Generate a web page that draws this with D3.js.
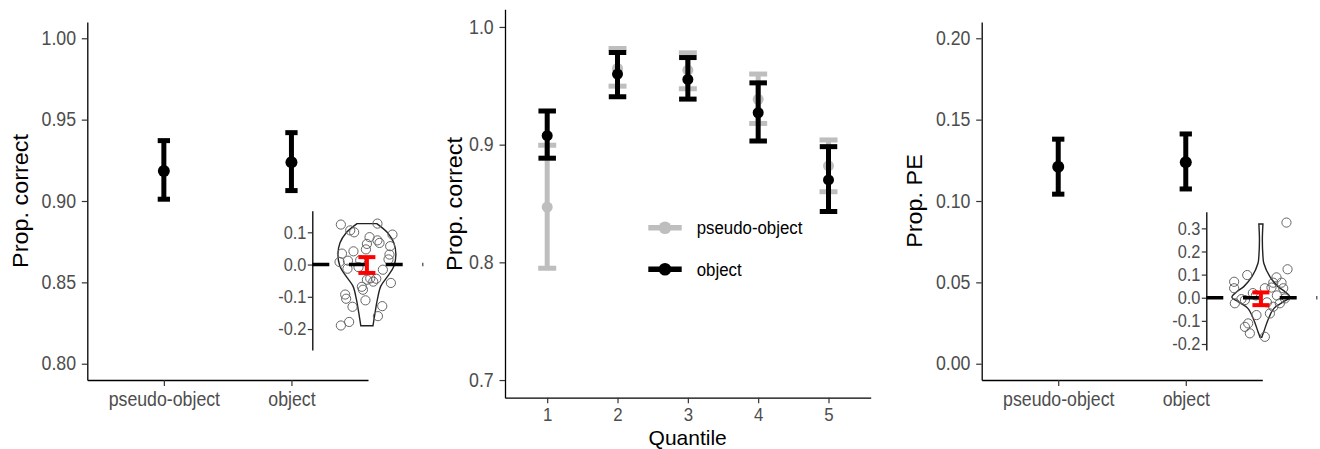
<!DOCTYPE html>
<html>
<head>
<meta charset="utf-8">
<script src="https://cdn.jsdelivr.net/npm/d3@7"></script>
<style>
body { margin: 0; background: #fff; }
svg text { font-family: "Liberation Sans", Arial, sans-serif; }
</style>
</head>
<body>
<svg id="chart" width="1320" height="449"></svg>

<script>
// ---- data ----
var groups = ["pseudo-object", "object"]

// left panel: proportion correct
var accMean = [0.9185, 0.9238]
var accLow  = [0.9011, 0.9064]
var accHigh = [0.9371, 0.9420]

// right panel: proportion PE
var peMean = [0.1211, 0.1238]
var peLow  = [0.1042, 0.1074]
var peHigh = [0.1380, 0.1412]

// middle panel: by quantile
var quantiles = [1, 2, 3, 4, 5]
var pseudoMean = [0.847, 0.9647, 0.9633, 0.9385, 0.882]
var pseudoLow  = [0.795, 0.9497, 0.9475, 0.918, 0.860]
var pseudoHigh = [0.8995, 0.9817, 0.978, 0.960, 0.904]
var objMean = [0.9076, 0.960, 0.9554, 0.9271, 0.870]
var objLow  = [0.8885, 0.9407, 0.9387, 0.9031, 0.8432]
var objHigh = [0.9286, 0.9783, 0.974, 0.9525, 0.8983]

// inset (object - pseudo-object) for accuracy
var accDiffJitter = [-0.217, -0.139, 0.088, 0.213, 0.022, 0, 0.088, 0.105, -0.008, -0.112, -0.208, 0.194,
  0.188, 0.18, -0.228, -0.158, -0.162, -0.056, 0.133, 0.028, 0, 0.078, 0.2, -0.042, -0.033, -0.181,
  -0.173, -0.012, -0.12, 0.128, 0.092, -0.148, -0.217, -0.07, -0.106, 0.053]
var accDiffValue = [0.124, 0.106, 0.127, 0.093, 0.085, 0.064, 0.075, 0.067, 0.047, 0.041, 0.034, 0.057,
  0.031, 0.016, 0.008, 0.012, -0.013, 0.013, -0.016, -0.043, -0.047, -0.044, -0.057, -0.069, -0.078, -0.093,
  -0.106, -0.111, -0.131, -0.129, -0.16, -0.178, -0.189, -0.008, 0.1, -0.053]
var accViolinAt   = [0.127, 0.098, 0.067, 0.031, -0.005, -0.036, -0.067, -0.109, -0.15, -0.19]
var accViolinDens = [0.34, 0.72, 0.93, 1, 0.93, 0.72, 0.48, 0.36, 0.28, 0.21]
var accDiffMean = -0.0015, accDiffLow = -0.026, accDiffHigh = 0.023

// inset for PE
var peDiffJitter = [0.213, 0.222, -0.114, -0.223, -0.223, -0.217, 0.13, 0.172, 0.186, 0.103, 0.033, -0.133,
  -0.037, 0.075, -0.106, -0.133, -0.092, 0.033, 0.158, 0.2, 0.103, -0.162, 0.088, -0.042, 0.05, 0.133, -0.067]
var peDiffValue = [0.325, 0.123, 0.098, 0.069, 0.041, -0.024, 0.088, 0.065, 0.041, 0.065, 0.041, -0.01,
  -0.075, -0.068, -0.111, -0.126, -0.154, -0.169, -0.024, -0.003, -0.039, -0.006, 0.044, 0.01, -0.02, 0.01, 0.02]
var peViolinAt   = [0.319, 0.25, 0.18, 0.149, 0.091, 0.048, 0.026, 0.002, -0.017, -0.046, -0.097, -0.147, -0.171]
var peViolinDens = [0.07, 0.05, 0.07, 0.1, 0.31, 0.59, 0.83, 1, 0.79, 0.45, 0.24, 0.1, 0.03]
var peDiffMean = -0.004, peDiffLow = -0.032, peDiffHigh = 0.023

// ---- drawing ----
var SX = 0.91   // source text is slightly narrow
var svg = d3.select("#chart")

function styleAxis(g, fs){
  g.select(".domain").attr("stroke", "#000").attr("stroke-width", 1.3)
  g.selectAll(".tick line").attr("stroke", "#333").attr("stroke-width", 1.2)
  g.selectAll(".tick text").attr("fill", "#4d4d4d").style("font-size", fs + "px")
    .attr("transform", "scale(" + SX + ",1)")
}

function yTitle(x, y, txt){
  svg.append("text")
    .attr("transform", "translate(" + x + "," + y + ") scale(" + SX + ",1) rotate(-90)")
    .attr("text-anchor", "middle").style("font-size", "23.4px").attr("fill", "#000")
    .text(txt)
}

function errorbars(g, xs, mean, low, high, color, capW, sw, r){
  var idx = d3.range(mean.length)
  g.selectAll(null).data(idx).enter().append("line")
    .attr("x1", i => xs(i)).attr("x2", i => xs(i))
    .attr("y1", i => low[i]).attr("y2", i => high[i])
    .attr("stroke", color).attr("stroke-width", sw)
  g.selectAll(null).data(idx.concat(idx)).enter().append("line")
    .attr("x1", i => xs(i) - capW / 2).attr("x2", i => xs(i) + capW / 2)
    .attr("y1", (i, k) => k < idx.length ? low[i] : high[i])
    .attr("y2", (i, k) => k < idx.length ? low[i] : high[i])
    .attr("stroke", color).attr("stroke-width", sw)
  if (r > 0) {
    g.selectAll(null).data(idx).enter().append("circle")
      .attr("cx", i => xs(i)).attr("cy", i => mean[i]).attr("r", r).attr("fill", color)
  }
}

function groupPanel(x0, x1, domain, ticks, fmt, title, mean, low, high){
  var y = d3.scaleLinear().domain(domain).range([380, 22])
  var x = d3.scalePoint().domain(groups).range([x0, x1]).padding(0.6)

  var ya = svg.append("g").attr("transform", "translate(" + x0 + ",0)")
    .call(d3.axisLeft(y).tickValues(ticks).tickFormat(d3.format(fmt)).tickSize(5.5).tickPadding(6.9).tickSizeOuter(0))
  styleAxis(ya, 19.5)
  var xa = svg.append("g").attr("transform", "translate(0,380)")
    .call(d3.axisBottom(x).tickSize(6).tickPadding(6).tickSizeOuter(0))
  styleAxis(xa, 19.5)

  yTitle(x0 - 59.5, 201, title)

  var g = svg.append("g")
  errorbars(g, i => x(groups[i]), mean.map(y), low.map(y), high.map(y), "#000", 12.3, 5, 6)
}

function inset(axisX, yRange, domain, ticks, jitter, values, vAt, vDens, dm, dl, dh){
  var iy = d3.scaleLinear().domain(domain).range(yRange)
  var ix = d3.scaleLinear().domain([0.545, 1.47]).range([axisX, axisX + 111])
  var wS = d3.scaleLinear().domain([0, 1]).range([0, 29])

  var ax = svg.append("g").attr("transform", "translate(" + axisX + ",0)")
    .call(d3.axisLeft(iy).tickValues(ticks).tickFormat(d => d.toFixed(1)).tickSize(4.5).tickPadding(2).tickSizeOuter(0))
  styleAxis(ax, 18)

  var vio = vAt.map((v, i) => ({v: v, d: vDens[i]}))
  svg.append("path").datum(vio)
    .attr("d", d3.area().curve(d3.curveCatmullRom)
      .y(d => iy(d.v)).x0(d => ix(1) - wS(d.d)).x1(d => ix(1) + wS(d.d)))
    .attr("fill", "none").attr("stroke", "#222").attr("stroke-width", 1.4)

  svg.append("g").selectAll("circle").data(values).enter().append("circle")
    .attr("cx", (v, i) => ix(1 + jitter[i])).attr("cy", v => iy(v)).attr("r", 4.6)
    .attr("fill", "none").attr("stroke", "#666").attr("stroke-width", 1)

  svg.append("line")
    .attr("x1", ix(0.545)).attr("x2", ix(1.47)).attr("y1", iy(0)).attr("y2", iy(0))
    .attr("stroke", "#000").attr("stroke-width", 3.5).attr("stroke-dasharray", "17 19.7")

  var g = svg.append("g")
  errorbars(g, i => ix(1), [iy(dm)], [iy(dl)], [iy(dh)], "#ff0000", 17, 4, 0)
}

// left
groupPanel(87.3, 368, [0.79, 1.01], [0.80, 0.85, 0.90, 0.95, 1.00], ".2f", "Prop. correct", accMean, accLow, accHigh)
inset(312.3, [350, 210.7], [-0.265, 0.167], [-0.2, -0.1, 0, 0.1], accDiffJitter, accDiffValue,
  accViolinAt, accViolinDens, accDiffMean, accDiffLow, accDiffHigh)

// right
groupPanel(981.7, 1262.3, [-0.01, 0.21], [0, 0.05, 0.10, 0.15, 0.20], ".2f", "Prop. PE", peMean, peLow, peHigh)
inset(1206.3, [350, 211.7], [-0.226, 0.372], [-0.2, -0.1, 0, 0.1, 0.2, 0.3], peDiffJitter, peDiffValue,
  peViolinAt, peViolinDens, peDiffMean, peDiffLow, peDiffHigh)

// middle
var yQ = d3.scaleLinear().domain([0.685, 1.015]).range([397.7, 9.3])
var xQ = d3.scalePoint().domain(quantiles).range([505, 870.7]).padding(0.6)
var yqa = svg.append("g").attr("transform", "translate(505,0)")
  .call(d3.axisLeft(yQ).tickValues([0.7, 0.8, 0.9, 1.0]).tickFormat(d3.format(".1f")).tickSize(5.5).tickPadding(6.9).tickSizeOuter(0))
styleAxis(yqa, 19.5)
var xqa = svg.append("g").attr("transform", "translate(0,397.7)")
  .call(d3.axisBottom(xQ).tickSize(5.5).tickPadding(5).tickSizeOuter(0))
styleAxis(xqa, 18.5)
yTitle(462, 204, "Prop. correct")
svg.append("text").attr("x", 687.7).attr("y", 444.5)
  .attr("text-anchor", "middle").style("font-size", "21px").text("Quantile")

var gq = svg.append("g")
errorbars(gq, i => xQ(quantiles[i]), pseudoMean.map(yQ), pseudoLow.map(yQ), pseudoHigh.map(yQ), "#bebebe", 18, 5, 5.5)
errorbars(gq, i => xQ(quantiles[i]), objMean.map(yQ), objLow.map(yQ), objHigh.map(yQ), "#000", 17.5, 5, 5.5)

// legend
var series = ["pseudo-object", "object"]
var seriesColor = ["#bebebe", "#000"]
var leg = svg.append("g").attr("transform", "translate(648.3,227.7)")
var item = leg.selectAll("g").data(series).enter().append("g")
  .attr("transform", (d, i) => "translate(0," + (i * 41.6) + ")")
item.append("line").attr("x1", 0).attr("x2", 33.4).attr("stroke", (d, i) => seriesColor[i]).attr("stroke-width", 5.5)
item.append("circle").attr("cx", 16.7).attr("r", 6.3).attr("fill", (d, i) => seriesColor[i])
item.append("text").attr("transform", "translate(48.4,6.5) scale(" + SX + ",1)")
  .style("font-size", "18.5px").attr("fill", "#000").text(d => d)
</script>
</body>
</html>
